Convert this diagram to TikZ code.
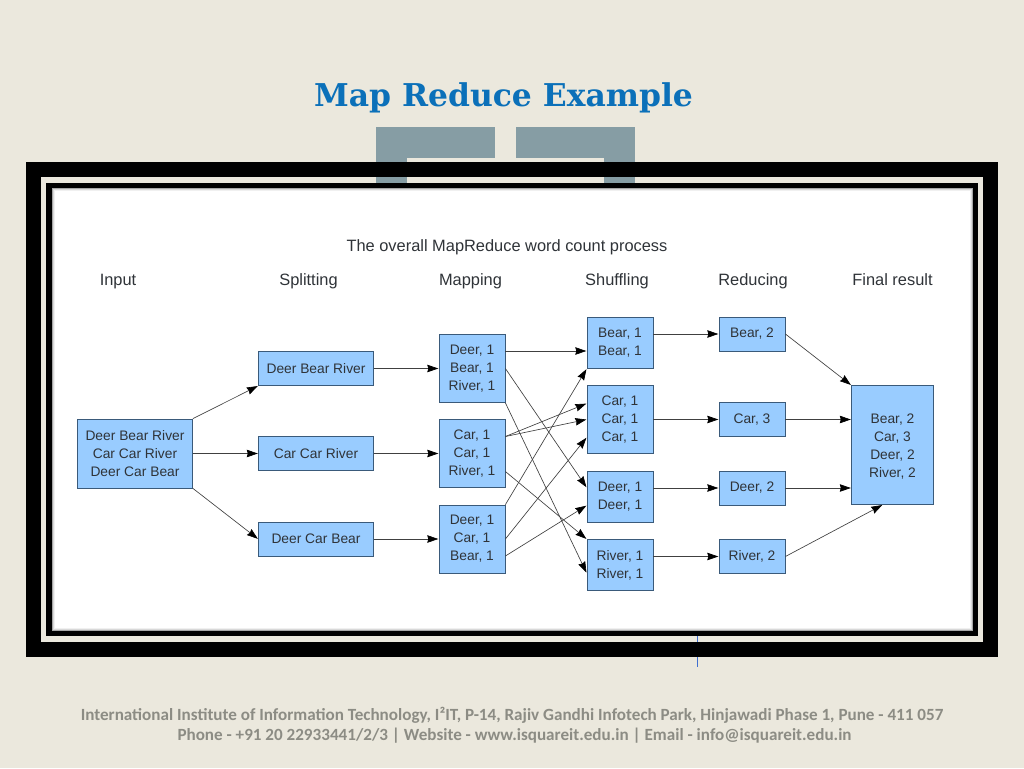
\documentclass[tikz,border=0pt]{standalone}
\usepackage{fontspec}
\setmainfont{Liberation Sans}
\newfontfamily\titlefont{DejaVu Serif}
\newfontfamily\footfont{Carlito}
\usetikzlibrary{arrows.meta}
\definecolor{pagebg}{HTML}{EBE8DD}
\definecolor{boxfill}{HTML}{99CCFF}
\definecolor{boxline}{HTML}{3A5A7A}
\definecolor{deco}{HTML}{869DA4}
\definecolor{txt}{HTML}{2F3338}
\definecolor{titleblue}{HTML}{0B70B9}
\definecolor{foot}{HTML}{8C8C84}
\definecolor{cursor}{HTML}{3F6FD0}
\tikzset{
  flowbox/.style={draw=boxline,fill=boxfill,line width=0.8pt,minimum width=#1,inner sep=0pt,align=center,font=\fontsize{13.8}{18}\selectfont,text=txt},
  flowbox/.default=100pt,
  head/.style={font=\fontsize{16.4}{20}\selectfont,text=txt,anchor=base},
  conn/.style={draw=black!75,line width=0.65pt,-{Stealth[length=11pt,width=7.5pt,inset=1pt,color=black]},shorten >=0.3pt},
  footline/.style={font=\footfont\bfseries\fontsize{17.1}{20}\selectfont,text=foot,anchor=base}
}
\begin{document}
\begin{tikzpicture}[x=1pt,y=-1pt]
\useasboundingbox (0,0) rectangle (1024,768);
\fill[pagebg] (0,0) rectangle (1024,768);
% decoration behind the frame
\fill[deco] (376,127) rectangle (495,158);
\fill[deco] (516,127) rectangle (635,158);
\fill[deco] (376,127) rectangle (407,162);
\fill[deco] (604,127) rectangle (635,162);
% frame
\fill[black] (26,162) rectangle (998,657);
\fill[pagebg] (41,177) rectangle (983,642);
\fill[deco] (376,177) rectangle (407,183);
\fill[deco] (604,177) rectangle (635,183);
\fill[black] (46,182.5) rectangle (978,636);
\fill[white] (52,188) rectangle (973,631);
\draw[black,opacity=.35,line width=1pt] (52.5,188.5) rectangle (972.5,630.5);
\draw[black,opacity=.15,line width=1pt] (53.5,189.5) rectangle (971.5,629.5);
\draw[black,opacity=.06,line width=1pt] (54.5,190.5) rectangle (970.5,628.5);
% thin vertical mark
\coordinate (ma) at (697.5,636);
\coordinate (mb) at (697.5,642);
\coordinate (mc) at (697.5,657);
\coordinate (md) at (697.5,667);
\draw[cursor,line width=1pt] (ma) -- (mb);
\draw[cursor,line width=1pt] (mc) -- (md);
% texts
\node[font=\titlefont\bfseries\fontsize{31.4}{38}\selectfont,text=titleblue,anchor=base] (title) at (503.5,106) {Map Reduce Example};
\node[font=\fontsize{16.4}{20}\selectfont,text=txt,anchor=base] (sub) at (507,251) {The overall MapReduce word count process};
\node[head] (h1) at (118,285.5) {Input};
\node[head] (h2) at (308.5,285.5) {Splitting};
\node[head] (h3) at (470.5,285.5) {Mapping};
\node[head] (h4) at (617,285.5) {Shuffling};
\node[head] (h5) at (753,285.5) {Reducing};
\node[head] (h6) at (892.5,285.5) {Final result};
% boxes
\node[flowbox=115pt,minimum height=69pt] (in) at (135,453.5) {Deer Bear River\\Car Car River\\Deer Car Bear};
\node[flowbox=115pt,minimum height=34pt] (s1) at (316,368.5) {Deer Bear River};
\node[flowbox=115pt,minimum height=34pt] (s2) at (316,453.5) {Car Car River};
\node[flowbox=115pt,minimum height=34pt] (s3) at (316,539) {Deer Car Bear};
\node[flowbox=66pt,minimum height=68pt] (m1) at (472,368.5) {Deer, 1\\Bear, 1\\River, 1};
\node[flowbox=66pt,minimum height=68pt] (m2) at (472,453.5) {Car, 1\\Car, 1\\River, 1};
\node[flowbox=66pt,minimum height=68pt] (m3) at (472,539) {Deer, 1\\Car, 1\\Bear, 1};
\node[flowbox=66pt,minimum height=51pt] (f1) at (620,343) {Bear, 1\\Bear, 1};
\node[flowbox=66pt,minimum height=68pt] (f2) at (620,419.5) {Car, 1\\Car, 1\\Car, 1};
\node[flowbox=66pt,minimum height=51pt] (f3) at (620,496.5) {Deer, 1\\Deer, 1};
\node[flowbox=66pt,minimum height=51pt] (f4) at (620,565) {River, 1\\River, 1};
\node[flowbox=66pt,minimum height=34pt] (r1) at (752,334) {Bear, 2};
\node[flowbox=66pt,minimum height=34pt] (r2) at (752,419.5) {Car, 3};
\node[flowbox=66pt,minimum height=34pt] (r3) at (752,488) {Deer, 2};
\node[flowbox=66pt,minimum height=34pt] (r4) at (752,556.5) {River, 2};
\node[flowbox=82pt,minimum height=119pt] (fin) at (892.5,445) {\rule{0pt}{13.5pt}Bear, 2\\Car, 3\\Deer, 2\\River, 2};
% connectors
\draw[conn] (in.north east) -- (s1.south west);
\draw[conn] (in.east) -- (s2.west);
\draw[conn] (in.south east) -- (s3.west);
\draw[conn] (s1.east) -- (m1.west);
\draw[conn] (s2.east) -- (m2.west);
\draw[conn] (s3.east) -- (m3.west);
\draw[conn] ([yshift=17.5pt]m1.east) -- ([yshift=-8pt]f1.west);
\draw[conn] (m1.east) -- ([yshift=9pt]f3.west);
\draw[conn] (m1.south east) -- ([yshift=-8pt]f4.west);
\draw[conn] ([yshift=17pt]m2.east) -- ([yshift=16pt]f2.west);
\draw[conn] ([yshift=17pt]m2.east) -- (f2.west);
\draw[conn] ([yshift=-18pt]m2.east) -- (f4.north west);
\draw[conn] (m3.north east) -- (f1.south west);
\draw[conn] (m3.east) -- ([yshift=-18pt]f2.west);
\draw[conn] ([yshift=-17pt]m3.east) -- ([yshift=-9pt]f3.west);
\draw[conn] (f1.east |- r1.west) -- (r1.west);
\draw[conn] (f2.east) -- (r2.west);
\draw[conn] (f3.east |- r3.west) -- (r3.west);
\draw[conn] (f4.east |- r4.west) -- (r4.west);
\draw[conn] (r1.east) -- (fin.north west);
\draw[conn] (r2.east) -- (fin.west |- r2.east);
\draw[conn] (r3.east) -- (fin.west |- r3.east);
\draw[conn] (r4.east) -- ([xshift=-10pt]fin.south);
% footer
\node[footline] (ft1) at (512,720) {International Institute of Information Technology, I²IT, P-14, Rajiv Gandhi Infotech Park, Hinjawadi Phase 1, Pune - 411 057};
\node[footline] (ft2) at (514.5,740) {Phone - +91 20 22933441/2/3 | Website - www.isquareit.edu.in | Email - info@isquareit.edu.in};
\end{tikzpicture}
\end{document}
